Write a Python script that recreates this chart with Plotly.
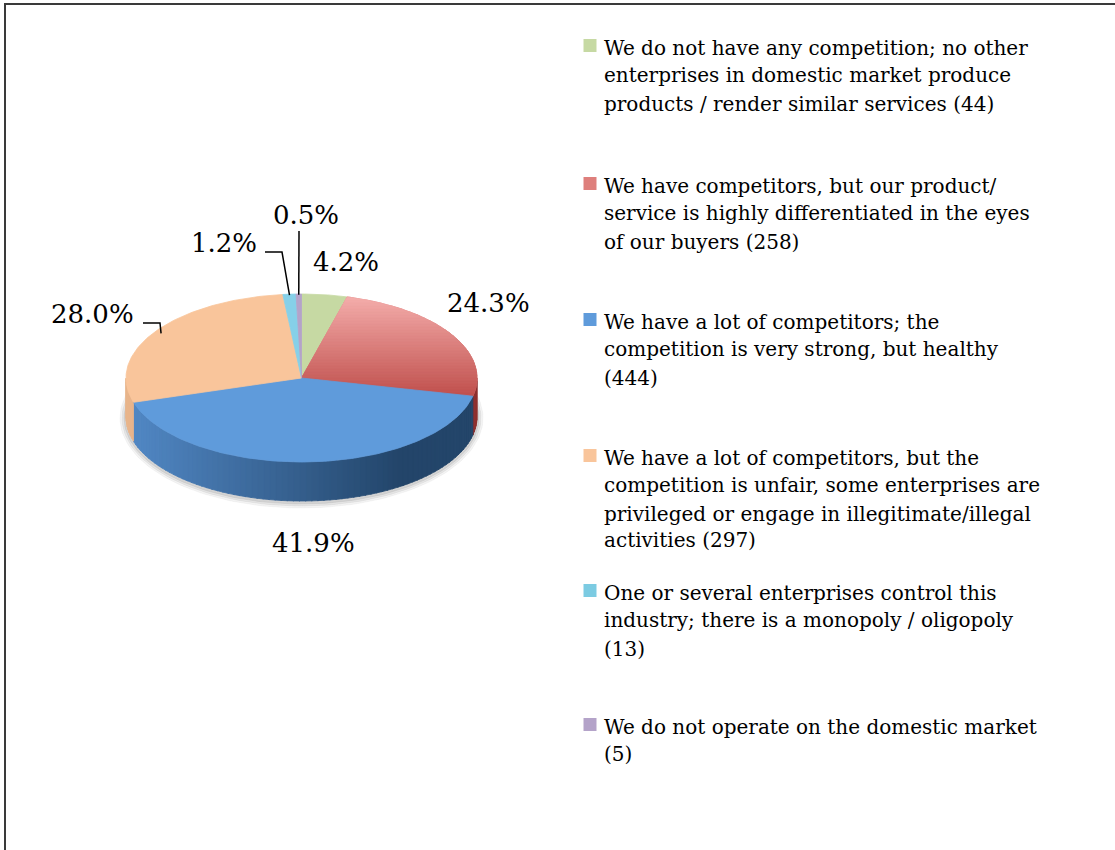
import numpy as np
import plotly.graph_objects as go

# ---- data -------------------------------------------------------------
shares_pct = [4.2, 24.3, 41.9, 28.0, 1.2, 0.5]
counts = [44, 258, 444, 297, 13, 5]
legend_lines = [
    ["We do not have any competition; no other",
     "enterprises in domestic market produce",
     "products / render similar services"],
    ["We have competitors, but our product/",
     "service is highly differentiated in the eyes",
     "of our buyers"],
    ["We have a lot of competitors; the",
     "competition is very strong, but healthy",
     ""],
    ["We have a lot of competitors, but the",
     "competition is unfair, some enterprises are",
     "privileged or engage in illegitimate/illegal",
     "activities"],
    ["One or several enterprises control this",
     "industry; there is a monopoly / oligopoly",
     ""],
    ["We do not operate on the domestic market",
     ""],
]

# ---- styling ------------------------------------------------------------
top_colors = ["#c6d9a3", "#dc7a77", "#5f9bdb", "#f9c59b", "#86d0e8", "#b4a3c9"]
marker_colors = ["#c6d9a3", "#de7f7c", "#5f9bdb", "#f9c59b", "#7ccbe2", "#b4a3c9"]
side_light = ["#9fb07f", "#c85e5b", "#5289c6", "#e9b58c", "#5fb0c9", "#9585a8"]
side_dark = ["#6e7a57", "#8e302e", "#23456a", "#b08462", "#3a7f93", "#62557a"]
red_grad = ("#f4adab", "#c0504d")

FONT = "DejaVu Serif"
W, H = 1115, 850
cx, cy, rx, ry, depth = 301.5, 378.0, 175.5, 84.0, 39.0


def hex2rgb(h):
    h = h.lstrip("#")
    return np.array([int(h[i:i + 2], 16) for i in (0, 2, 4)], dtype=float)


def mix(c1, c2, t):
    t = min(max(t, 0.0), 1.0)
    c = hex2rgb(c1) * (1 - t) + hex2rgb(c2) * t
    return "rgb(%d,%d,%d)" % tuple(np.round(c).astype(int))


def ell(theta, dy=0.0):
    th = np.radians(theta)
    return cx + rx * np.sin(th), cy - ry * np.cos(th) + dy


def arc(a0, a1, dy=0.0, step=1.0):
    n = max(2, int(abs(a1 - a0) / step) + 2)
    ts = np.linspace(a0, a1, n)
    return [ell(t, dy) for t in ts]


def clip_y(poly, y0, y1):
    def clip(pts, keep, yv):
        out = []
        for i in range(len(pts)):
            cur, prev = pts[i], pts[i - 1]
            def cross():
                t = (yv - prev[1]) / (cur[1] - prev[1])
                return (prev[0] + t * (cur[0] - prev[0]), yv)
            if keep(cur):
                if not keep(prev):
                    out.append(cross())
                out.append(cur)
            elif keep(prev):
                out.append(cross())
        return out
    p = clip(poly, lambda q: q[1] >= y0, y0)
    if p:
        p = clip(p, lambda q: q[1] <= y1, y1)
    return p


def poly_trace(pts, color):
    xs = [p[0] for p in pts] + [pts[0][0]]
    ys = [p[1] for p in pts] + [pts[0][1]]
    return go.Scatter(x=xs, y=ys, mode="lines", fill="toself", fillcolor=color,
                      line=dict(width=0.8, color=color), hoverinfo="skip",
                      showlegend=False)


total = sum(shares_pct)
shares = [v / total for v in shares_pct]
bounds = np.concatenate([[0.0], np.cumsum(shares) * 360.0])

fig = go.Figure()

# soft shadow beneath the disc
for grow, alpha in [(6, 0.06), (4, 0.08), (2, 0.10)]:
    pts = [(cx + (rx + grow) * np.sin(np.radians(t)),
            cy + depth + 1 - (ry + grow) * np.cos(np.radians(t)))
           for t in np.linspace(0, 360, 181)]
    fig.add_trace(poly_trace(pts, "rgba(60,60,60,%.2f)" % alpha))

# side wall (front half only, 90..270 degrees)
for i in range(len(shares)):
    a0, a1 = max(bounds[i], 90.0), min(bounds[i + 1], 270.0)
    if a1 <= a0:
        continue
    edges = np.arange(a0, a1, 2.0).tolist() + [a1]
    for s0, s1 in zip(edges[:-1], edges[1:]):
        xm = ell((s0 + s1) / 2)[0]
        t = (xm - (cx - rx)) / (2 * rx) / 0.78
        col = mix(side_light[i], side_dark[i], t)
        top = arc(s0, min(s1 + 0.3, a1), 0.0, 0.5)
        bot = arc(min(s1 + 0.3, a1), s0, depth, 0.5)
        fig.add_trace(poly_trace(top + bot, col))

# top face
for i in range(len(shares)):
    wedge = [(cx, cy)] + arc(bounds[i], bounds[i + 1])
    if i == 1:
        ys = [p[1] for p in wedge]
        y_lo, y_hi = min(ys), max(ys)
        edges = np.arange(y_lo, y_hi, 3.0).tolist() + [y_hi]
        fig.add_trace(poly_trace(wedge, mix(*red_grad, 0.5)))
        for b0, b1 in zip(edges[:-1], edges[1:]):
            band = clip_y(wedge, b0, b1 + 0.6)
            if len(band) >= 3:
                t = ((b0 + b1) / 2 - y_lo) / (y_hi - y_lo)
                fig.add_trace(poly_trace(band, mix(*red_grad, t)))
    else:
        fig.add_trace(poly_trace(wedge, top_colors[i]))

# percentage labels
label_pos = [(346, 262), (488, 303), (313, 543), (92, 314), (224, 243), (306, 215)]
for i, (lx, ly) in enumerate(label_pos):
    fig.add_annotation(x=lx, y=ly, text="%.1f%%" % shares_pct[i],
                       showarrow=False, xanchor="center", yanchor="middle",
                       font=dict(family=FONT, size=26, color="#000000"))

# leader lines for the small / crowded slices
def mid_point(i, scale=1.0):
    th = np.radians((bounds[i] + bounds[i + 1]) / 2)
    return cx + rx * scale * np.sin(th), cy - ry * scale * np.cos(th)

leaders = {
    5: [(299, 231)],
    4: [(265, 252), (282, 252)],
    3: [(143, 323), (160, 323)],
}
for i, pts in leaders.items():
    ex, ey = mid_point(i, 0.99 if i != 3 else 0.96)
    xs = [p[0] for p in pts] + [ex]
    ys = [p[1] for p in pts] + [ey]
    fig.add_trace(go.Scatter(x=xs, y=ys, mode="lines",
                             line=dict(color="#000000", width=1.5),
                             hoverinfo="skip", showlegend=False))

# legend: markers + wrapped text
item_y = [48, 186, 322, 458, 593, 727]
line_off = [0, 26.5, 55.5, 82]
fig.add_trace(go.Scatter(x=[590] * len(counts), y=[y - 2.5 for y in item_y],
                         mode="markers",
                         marker=dict(symbol="square", size=13, color=marker_colors,
                                     line=dict(width=0)),
                         hoverinfo="skip", showlegend=False))
for i, lines in enumerate(legend_lines):
    lines = list(lines)
    last = lines[-1]
    lines[-1] = (last + " " if last else "") + "(%d)" % counts[i]
    for j, txt in enumerate(lines):
        fig.add_annotation(x=602, y=item_y[i] + line_off[j], text=txt,
                           showarrow=False, xanchor="left", yanchor="middle",
                           font=dict(family=FONT, size=20, color="#000000"))

# frame
fig.add_shape(type="rect", x0=5, y0=4, x1=W + 20, y1=H + 20,
              line=dict(color="#3a3a3a", width=2), fillcolor="rgba(0,0,0,0)")

fig.update_layout(
    width=W, height=H,
    margin=dict(l=0, r=0, t=0, b=0),
    paper_bgcolor="#ffffff", plot_bgcolor="#ffffff",
    xaxis=dict(range=[0, W], visible=False, fixedrange=True),
    yaxis=dict(range=[H, 0], visible=False, fixedrange=True),
    showlegend=False,
)

fig.write_html("out.html")
